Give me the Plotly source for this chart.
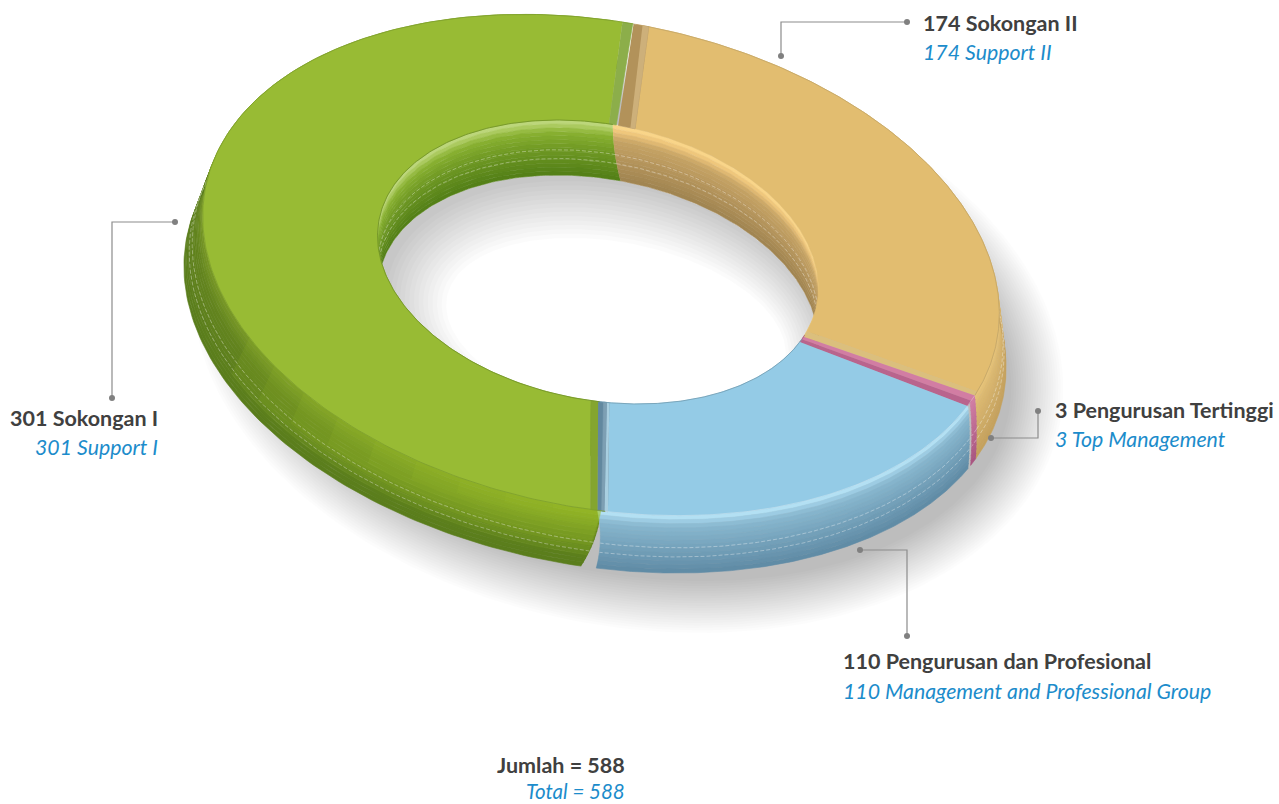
import numpy as np
import plotly.graph_objects as go

# ---- data ----
categories = ["Sokongan II", "Pengurusan Tertinggi", "Pengurusan dan Profesional", "Sokongan I"]
categories_en = ["Support II", "Top Management", "Management and Professional Group", "Support I"]
values = [174, 3, 110, 301]
total = 588

# ---- style ----
FACE = ["#e2bd70", "#cf7ba0", "#94cbe6", "#98bb34"]
OUTER_WALL = [
    [(0, "#e9c67b"), (0.2, "#dcb971"), (1, "#c4a05c")],
    [(0, "#d37fa5"), (1, "#a85580")],
    [(0, "#c4edfc"), (0.06, "#a9d8ee"), (0.2, "#88b7cf"), (1, "#5f8ba5")],
    [(0, "#7a9a28"), (0.3, "#64851f"), (1, "#5a7d1c")],
]
INNER_WALL = [
    [(0, "#ffdc90"), (0.12, "#eec57a"), (0.28, "#c6a365"), (1, "#a08450")],
    [(0, "#d37fa5"), (1, "#a85580")],
    [(0, "#c4edfc"), (1, "#5f8ba5")],
    [(0, "#c5dc8a"), (0.12, "#a8c85a"), (0.22, "#8ab232"), (0.5, "#719a24"), (1, "#527f16")],
]
TAU = np.radians(11)
PHI0 = -3.0
SKEW = 2.0


def pt(phi, c, a, b):
    p = np.radians(phi)
    u, v = a * np.sin(p), -b * np.cos(p)
    return c[0] + u * np.cos(TAU) - v * np.sin(TAU), c[1] + u * np.sin(TAU) + v * np.cos(TAU)


def lerp(p, q, t):
    return tuple(p[i] + (q[i] - p[i]) * t for i in range(len(p)))


OUT_TOP = ((601, 265), 403, 243)
OUT_LOW = ((595, 317), 416, 248)
IN_TOP = ((598, 262), 223, 138)
IN_LOW = ((598, 317), 223, 138)


def wall_curve(phi, top, low, t):
    x0, y0 = pt(phi, *top)
    x1, y1 = pt(phi + SKEW * t, *low)
    return x0 + (x1 - x0) * t, y0 + (y1 - y0) * t


def hex_rgb(h):
    return tuple(int(h[i:i + 2], 16) for i in (1, 3, 5))


def ramp(stops, t):
    for (t0, c0), (t1, c1) in zip(stops, stops[1:]):
        if t <= t1:
            f = (t - t0) / (t1 - t0)
            c = lerp(hex_rgb(c0), hex_rgb(c1), f)
            return "rgb(%d,%d,%d)" % c
    return stops[-1][1]


fig = go.Figure()


def poly(x, y, color):
    fig.add_trace(go.Scatter(x=list(x), y=list(y), mode="lines", fill="toself", fillcolor=color,
                             line=dict(width=0.6, color=color), hoverinfo="skip", showlegend=False))


def poly_soft(x, y, color):
    fig.add_trace(go.Scatter(x=list(x), y=list(y), mode="lines", fill="toself", fillcolor=color,
                             line=dict(width=0), hoverinfo="skip", showlegend=False))


def line(x, y, color, width=1, dash=None):
    fig.add_trace(go.Scatter(x=list(x), y=list(y), mode="lines", line=dict(width=width, color=color, dash=dash),
                             hoverinfo="skip", showlegend=False))


# slice angles come from the values
spans = [v / total * 360 for v in values]
starts = [PHI0 + sum(spans[:i]) for i in range(len(spans))]
ends = [s + w for s, w in zip(starts, spans)]

# soft drop shadow
ph = np.linspace(0, 360, 241)
for d in np.linspace(38, -14, 22):
    x, y = pt(ph, (628, 340), 402 + d, 248 + d)
    poly_soft(x, y, "rgba(0,0,0,0.012)")

# hole floor with its shadow
x, y = pt(ph, *IN_TOP)
poly(x, y, "#ffffff")
for d in np.linspace(0, 50, 14):
    xo, yo = pt(ph, *IN_LOW)
    xi2, yi2 = pt(ph[::-1], (IN_LOW[0][0] + 8 + d * 0.2, IN_LOW[0][1] + 5 + d * 0.15), 222 - d, 137 - d)
    poly_soft(list(xo) + [None] + list(xi2), list(yo) + [None] + list(yi2), "rgba(0,0,0,0.016)")

# wall pads: start pad, end pad at the top, end pad at the bottom of the wall
WALL_PAD = [(1.4, 0.0, 0.0), (0.0, 0.0, 0.0), (0.8, 1.1, -1.5), (0.6, -2.0, -2.0)]


def wall_angles(i, t, n=160):
    s, e0, e1 = WALL_PAD[i]
    return np.linspace(starts[i] + s, ends[i] + e0 + (e1 - e0) * t, n)


# outer walls
BANDS = np.linspace(0, 1, 15)
for i in [0, 3, 2, 1]:
    for t0, t1 in zip(BANDS, BANDS[1:]):
        x0, y0 = wall_curve(wall_angles(i, t0), OUT_TOP, OUT_LOW, t0)
        x1, y1 = wall_curve(wall_angles(i, t1)[::-1], OUT_TOP, OUT_LOW, t1)
        poly(np.r_[x0, x1], np.r_[y0, y1], ramp(OUTER_WALL[i], (t0 + t1) / 2))

# green wall brightens towards the near seam
for k in range(9):
    f = 1 - k / 9
    ph = np.linspace(starts[3] + 0.6, starts[3] + 0.6 + 62 * f, 80)
    x0, y0 = wall_curve(ph, OUT_TOP, OUT_LOW, 0)
    x1, y1 = wall_curve(ph[::-1], OUT_TOP, OUT_LOW, 0.8 * f)
    poly_soft(np.r_[x0, x1], np.r_[y0, y1], "rgba(160,200,50,0.11)")

# inner walls
for i in (3, 0):
    ph = np.linspace(starts[i], ends[i], 160)
    for t0, t1 in zip(BANDS, BANDS[1:]):
        x0, y0 = wall_curve(ph, IN_TOP, IN_LOW, t0)
        x1, y1 = wall_curve(ph[::-1], IN_TOP, IN_LOW, t1)
        poly(np.r_[x0, x1], np.r_[y0, y1], ramp(INNER_WALL[i], (t0 + t1) / 2))

# dashed seams on the walls
for t in (0.56, 0.72):
    for i in range(4):
        x, y = wall_curve(wall_angles(i, t, 120), OUT_TOP, OUT_LOW, t)
        line(x, y, "rgba(255,255,255,0.38)", 0.9, "4px,2px")
    for i in (0, 3):
        ph = np.linspace(starts[i], ends[i], 120)
        x, y = wall_curve(ph, IN_TOP, IN_LOW, t - 0.02)
        line(x, y, "rgba(255,255,255,0.38)", 0.9, "4px,2px")


def sector(po0, po1, pi0, pi1, color):
    xo, yo = pt(np.linspace(po0, po1, 200), *OUT_TOP)
    xi, yi = pt(np.linspace(pi1, pi0, 200), *IN_TOP)
    poly(np.r_[xo, xi], np.r_[yo, yi], color)


# top faces with their cut edges (angles follow the slice values)
S0, S1, S2, S3, E3 = starts[0], starts[1], starts[2], starts[3], ends[3]
sector(S0 + 3.2, S1 - 1.0, S0 + 5.8, S1 - 1.8, FACE[0])
sector(S1 - 1.0, S1, S1 - 1.8, S1 + 0.8, "#dbbf7d")
sector(S0 + 1.0, S0 + 3.2, S0 + 1.4, S0 + 5.8, "#b2925a")
sector(S0 + 2.3, S0 + 3.2, S0 + 4.6, S0 + 5.8, "#cdb07a")
sector(S1, S1 + 1.4, S1 + 0.8, S1 + 2.0, "#d27da3")
sector(S1 + 1.4, S2 + 1.0, S1 + 2.0, S2 + 1.5, "#b9648d")
sector(S2 + 1.0, S3 - 0.4, S2 + 1.5, S3 - 2.5, FACE[2])
sector(S3 - 0.4, S3 + 1.1, S3 - 2.5, S3 + 0.4, "#62889f")
sector(S3 - 0.4, S3 + 0.1, S3 - 2.5, S3 - 1.9, "#a9cfe0")
sector(S3 + 0.1, S3 + 0.5, S3 - 1.9, S3 - 1.0, "#7d9fb3")
sector(S3 + 2.1, E3 - 0.6, S3 + 2.3, E3 - 1.0, FACE[3])
sector(S3 + 1.1, S3 + 2.1, S3 + 0.4, S3 + 2.3, "#84a52f")
sector(E3 - 0.6, E3 + 0.9, E3 - 1.0, E3 + 0.9, "#8cae4a")

# thin face edges
for i, col in [(0, "#c2a467"), (3, "#7d9f2c")]:
    x, y = pt(np.linspace(starts[i] + 3 * (i == 0), ends[i] + 1 * (i == 3), 200), *OUT_TOP)
    line(x, y, col, 0.8)
x, y = pt(np.linspace(S1, S3, 160), *OUT_TOP)
line(x, y, "rgba(255,255,255,0.35)", 0.8)
for i, col in [(1, "#a85580"), (2, "#6f9ab0"), (3, "#6d8f26")]:
    x, y = pt(np.linspace(starts[i], ends[i], 200), *IN_TOP)
    line(x, y, col, 0.8)

# leader lines
LEADERS = [
    ([907, 781, 781], [22, 22, 56]),
    ([175, 112, 112], [222, 222, 398]),
    ([1038, 1038, 991], [411, 438, 438]),
    ([860, 907, 907], [550, 550, 636]),
]
for lx, ly in LEADERS:
    fig.add_trace(go.Scatter(x=lx, y=ly, mode="lines", line=dict(color="#8c8c8c", width=1.2),
                             hoverinfo="skip", showlegend=False))
    fig.add_trace(go.Scatter(x=[lx[0], lx[-1]], y=[ly[0], ly[-1]], mode="markers",
                             marker=dict(color="#808080", size=6), hoverinfo="skip", showlegend=False))

BOLD = dict(family="Lato", size=21.5, color="#404040")
ITAL = dict(family="Lato", size=21.3, color="#1c8ccb")
ITAL_SMALL = dict(family="Lato", size=20.5, color="#1c8ccb")
labels = [
    (921, 23, 29, "left", values[0], categories[0], categories_en[0]),
    (1053, 410, 29, "left", values[1], categories[1], categories_en[1]),
    (841, 661, 30, "left", values[2], categories[2], categories_en[2]),
    (160, 418, 29, "right", values[3], categories[3], categories_en[3]),
]
ann = []


def add_pair(x, y, gap, anchor, top, bottom, font2):
    ann.append(dict(x=x, y=y, xref="x", yref="y", text="<b>%s</b>" % top, showarrow=False, xanchor=anchor,
                    yanchor="middle", font=BOLD))
    ann.append(dict(x=x, y=y + gap, xref="x", yref="y", text="<i>%s</i>" % bottom, showarrow=False, xanchor=anchor,
                    yanchor="middle", font=font2))


for x, y, gap, anchor, v, m, e in labels:
    add_pair(x, y, gap, anchor, "%d %s" % (v, m), "%d %s" % (v, e), ITAL)
add_pair(627, 765, 26, "right", "Jumlah = %d" % total, "Total = %d" % total, ITAL_SMALL)

fig.update_layout(width=1279, height=804, margin=dict(l=0, r=0, t=0, b=0), paper_bgcolor="white",
                  plot_bgcolor="white", showlegend=False, annotations=ann,
                  xaxis=dict(range=[0, 1279], visible=False, fixedrange=True),
                  yaxis=dict(range=[804, 0], visible=False, fixedrange=True))
fig.write_html("out.html", config={"displayModeBar": False},
               post_script="document.body.style.margin='0';document.body.style.overflow='hidden';")
